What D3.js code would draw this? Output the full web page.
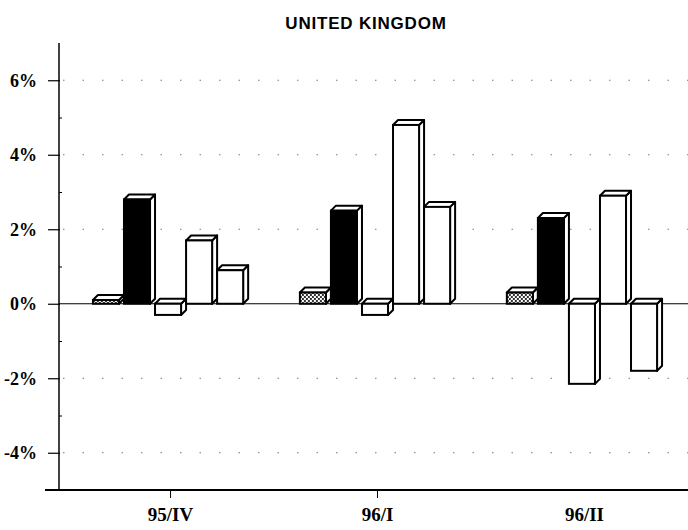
<!DOCTYPE html>
<html>
<head>
<meta charset="utf-8">
<script src="https://cdn.jsdelivr.net/npm/d3@7"></script>
<style>
  body { margin: 0; background: #fff; }
  svg { display: block; }
</style>
</head>
<body>
<div id="chart"></div>
<script>
var quarters = ["95/IV", "96/I", "96/II"];
var seriesNames = ["s1", "s2", "s3", "s4", "s5"];
var s1 = [0.1, 0.3, 0.3];
var s2 = [2.8, 2.5, 2.3];
var s3 = [-0.3, -0.3, -2.15];
var s4 = [1.7, 4.8, 2.9];
var s5 = [0.9, 2.6, -1.8];
var yTicks = [-4, -2, 0, 2, 4, 6];
var gridTicks = [-4, -2, 2, 4, 6];

var seriesValues = {s1: s1, s2: s2, s3: s3, s4: s4, s5: s5};
var fills = {s1: "url(#hatch)", s2: "#000", s3: "#fff", s4: "#fff", s5: "#fff"};

var width = 688, height = 530;
var depth = 5;

var svg = d3.select("#chart").append("svg")
    .attr("width", width)
    .attr("height", height);

var defs = svg.append("defs");
var pat = defs.append("pattern")
    .attr("id", "hatch")
    .attr("patternUnits", "userSpaceOnUse")
    .attr("width", 4).attr("height", 4);
pat.append("rect").attr("width", 4).attr("height", 4).attr("fill", "#fff");
pat.append("rect").attr("width", 2).attr("height", 2).attr("fill", "#333");
pat.append("rect").attr("x", 2).attr("y", 2).attr("width", 2).attr("height", 2).attr("fill", "#333");

var y = d3.scaleLinear().domain([-5, 7]).range([490, 43]);

var x0 = d3.scaleBand().domain(quarters).range([59, 696])
    .paddingInner(0.25).paddingOuter(0.164);
var x1 = d3.scaleBand().domain(seriesNames).range([0, x0.bandwidth()]);

svg.append("text")
    .attr("x", 366)
    .attr("y", 29)
    .attr("text-anchor", "middle")
    .style("font-family", "Liberation Sans, Arial, sans-serif")
    .style("font-weight", "bold")
    .style("font-size", "17px")
    .style("letter-spacing", "0.8px")
    .text("UNITED KINGDOM");

// dotted grid
svg.append("g").selectAll("line")
    .data(gridTicks)
    .enter().append("line")
    .attr("x1", 63).attr("x2", width)
    .attr("y1", function(d) { return y(d); })
    .attr("y2", function(d) { return y(d); })
    .style("stroke", "#777")
    .style("stroke-width", 1)
    .style("stroke-dasharray", "1.5,18");

// zero line
svg.append("line")
    .attr("x1", 59).attr("x2", width)
    .attr("y1", y(0)).attr("y2", y(0))
    .style("stroke", "#000")
    .style("stroke-width", 1);

// y axis
var yAxis = d3.axisLeft(y).tickValues(yTicks).tickSize(11)
    .tickFormat(function(d) { return d + "%"; });
var gy = svg.append("g")
    .attr("transform", "translate(59,0)")
    .call(yAxis);
gy.select(".domain").remove();
gy.selectAll(".tick line").attr("x2", -11).attr("x1", 1).style("stroke-width", 1.2);
gy.selectAll("text")
    .style("font-family", "Liberation Serif, Times New Roman, serif")
    .style("font-weight", "bold")
    .style("font-size", "18px")
    .attr("x", -22);

var yMinor = d3.axisRight(y).tickValues([-3, -1, 1, 3, 5]).tickSize(3).tickFormat("");
var gyMinor = svg.append("g").attr("transform", "translate(59,0)").call(yMinor);
gyMinor.select(".domain").remove();

svg.append("line")
    .attr("x1", 59).attr("x2", 59)
    .attr("y1", y(7)).attr("y2", y(-5))
    .style("stroke", "#000").style("stroke-width", 1.5);

// x axis, labels at group centres
var xAxis = d3.axisBottom(x0).tickSize(8).tickPadding(10);
var gx = svg.append("g")
    .attr("transform", "translate(0," + y(-5) + ")")
    .call(xAxis);
gx.select(".domain").remove();
gx.selectAll(".tick").filter(function(d, i) { return i === 2; }).select("line").remove();
gx.selectAll("text")
    .style("font-family", "Liberation Serif, Times New Roman, serif")
    .style("font-weight", "bold")
    .style("font-size", "19px");

svg.append("line")
    .attr("x1", 45).attr("x2", width)
    .attr("y1", y(-5)).attr("y2", y(-5))
    .style("stroke", "#000").style("stroke-width", 2);

// bars
var rows = [];
quarters.forEach(function(q, i) {
  seriesNames.forEach(function(s) {
    rows.push({quarter: q, series: s, value: seriesValues[s][i]});
  });
});

var bars = svg.append("g").selectAll("g")
    .data(rows)
    .enter().append("g")
    .attr("transform", function(d) { return "translate(" + (x0(d.quarter) + x1(d.series)) + ",0)"; });

var w = x1.bandwidth() - depth;

function topY(d) { return y(Math.max(d.value, 0)); }
function botY(d) { return y(Math.min(d.value, 0)); }

bars.append("path")
    .attr("d", function(d) {
      var t = topY(d), b = botY(d);
      return "M" + w + "," + t + "L" + (w + depth) + "," + (t - depth) +
        "L" + (w + depth) + "," + (b - depth) + "L" + w + "," + b + "Z";
    })
    .attr("fill", "#fff").attr("stroke", "#000").attr("stroke-width", 2)
    .attr("stroke-linejoin", "round");

bars.append("path")
    .attr("d", function(d) {
      var t = topY(d);
      return "M0," + t + "L" + depth + "," + (t - depth) + "L" + (w + depth) + "," + (t - depth) +
        "L" + w + "," + t + "Z";
    })
    .attr("fill", "#fff").attr("stroke", "#000").attr("stroke-width", 2)
    .attr("stroke-linejoin", "round");

bars.append("rect")
    .attr("x", 0)
    .attr("y", topY)
    .attr("width", w)
    .attr("height", function(d) { return botY(d) - topY(d); })
    .attr("fill", function(d) { return fills[d.series]; })
    .attr("stroke", "#000").attr("stroke-width", 2);
</script>
</body>
</html>
